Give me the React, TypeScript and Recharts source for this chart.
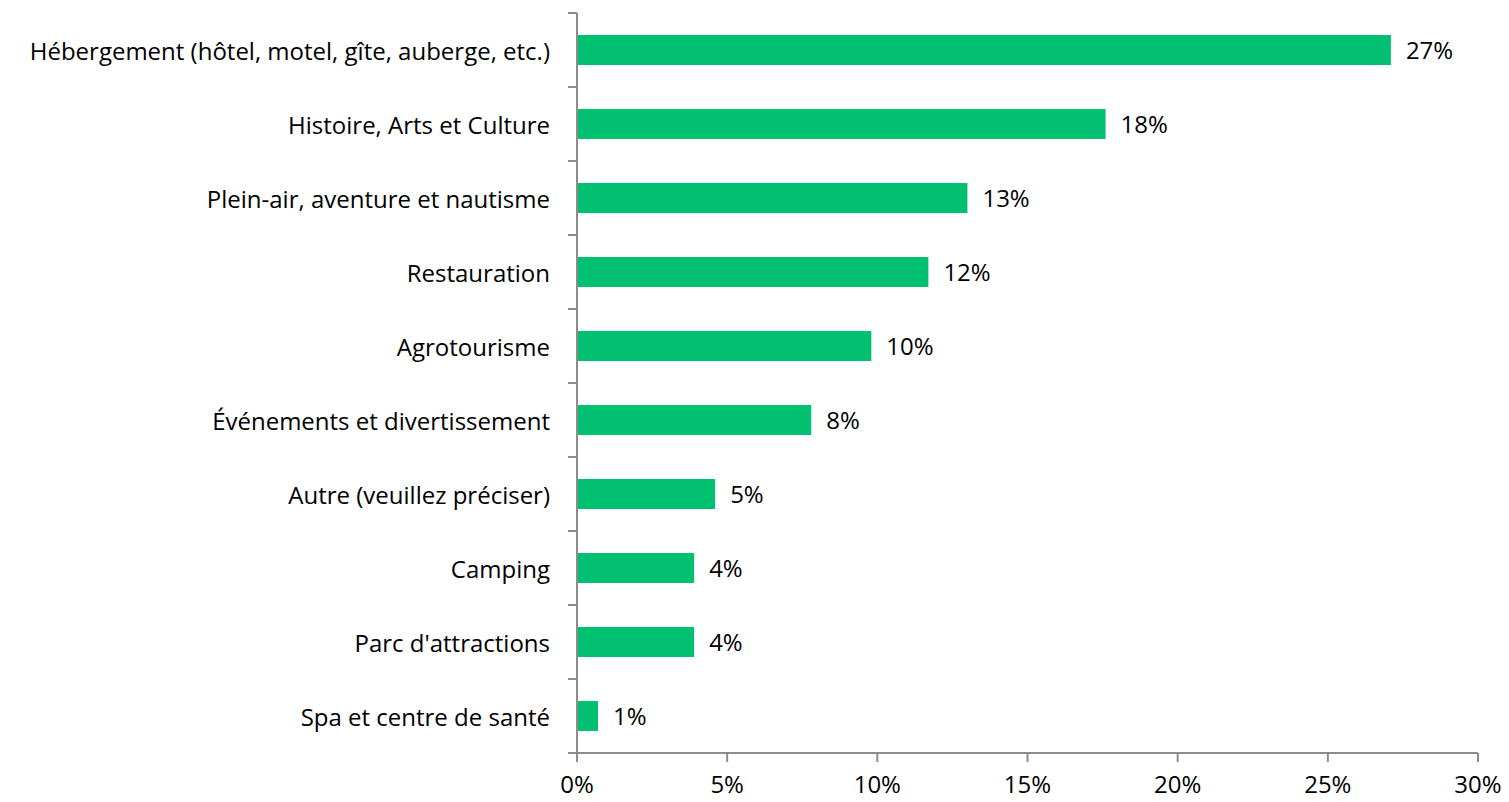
import { Bar, BarChart, LabelList, XAxis, YAxis } from "recharts";

const categories = [
  "Hébergement (hôtel, motel, gîte, auberge, etc.)",
  "Histoire, Arts et Culture",
  "Plein-air, aventure et nautisme",
  "Restauration",
  "Agrotourisme",
  "Événements et divertissement",
  "Autre (veuillez préciser)",
  "Camping",
  "Parc d'attractions",
  "Spa et centre de santé",
];
const shares = [27.1, 17.6, 13.0, 11.7, 9.8, 7.8, 4.6, 3.9, 3.9, 0.7];
const xTicks = [0, 5, 10, 15, 20, 25, 30];

const data = categories.map((name, i) => ({ name, share: shares[i] }));

const W = 1509;
const H = 802;
const M = { top: 13, right: 31, bottom: 0, left: 0 };
const X_AXIS_H = 49;
const Y_AXIS_W = 577;
const BAND = (H - M.top - M.bottom - X_AXIS_H) / categories.length;

const AXIS = "#8c8c8c";
const GREEN = "#02c071";
const FONT = "'Open Sans', 'Liberation Sans', sans-serif";
const FS = 24;

function CategoryTick(props: any) {
  const { x, y, payload, index } = props;
  const last = index === categories.length - 1;
  return (
    <g>
      <line x1={x - 9} x2={x} y1={y - BAND / 2} y2={y - BAND / 2} stroke={AXIS} strokeWidth={2} />
      {last && (
        <line x1={x - 9} x2={x} y1={y + BAND / 2} y2={y + BAND / 2} stroke={AXIS} strokeWidth={2} />
      )}
      <text x={x - 27} y={y} textAnchor="end" dominantBaseline="central" fill="#000" fontSize={FS} fontFamily={FONT}>
        {payload.value}
      </text>
    </g>
  );
}

export default function App() {
  return (
    <div style={{ position: "absolute", left: 0, top: 0, background: "#fff", fontFamily: FONT }}>
      <BarChart width={W} height={H} data={data} layout="vertical" margin={M}>
        <XAxis
          type="number"
          domain={[0, 30]}
          ticks={xTicks}
          interval={0}
          height={X_AXIS_H}
          tickFormatter={(v) => `${v}%`}
          axisLine={{ stroke: AXIS, strokeWidth: 2 }}
          tickLine={{ stroke: AXIS, strokeWidth: 2 }}
          tickSize={9}
          tickMargin={14}
          tick={{ fill: "#000", fontSize: FS, fontFamily: FONT }}
        />
        <YAxis
          type="category"
          dataKey="name"
          width={Y_AXIS_W}
          interval={0}
          axisLine={{ stroke: AXIS, strokeWidth: 2 }}
          tickLine={false}
          tickSize={0}
          tickMargin={0}
          tick={<CategoryTick />}
        />
        <Bar dataKey="share" fill={GREEN} barSize={30} isAnimationActive={false}>
          <LabelList
            dataKey="share"
            position="right"
            offset={15}
            formatter={(v: any) => `${Math.round(Number(v))}%`}
            style={{ fill: "#000", fontSize: FS, fontFamily: FONT }}
          />
        </Bar>
      </BarChart>
    </div>
  );
}
